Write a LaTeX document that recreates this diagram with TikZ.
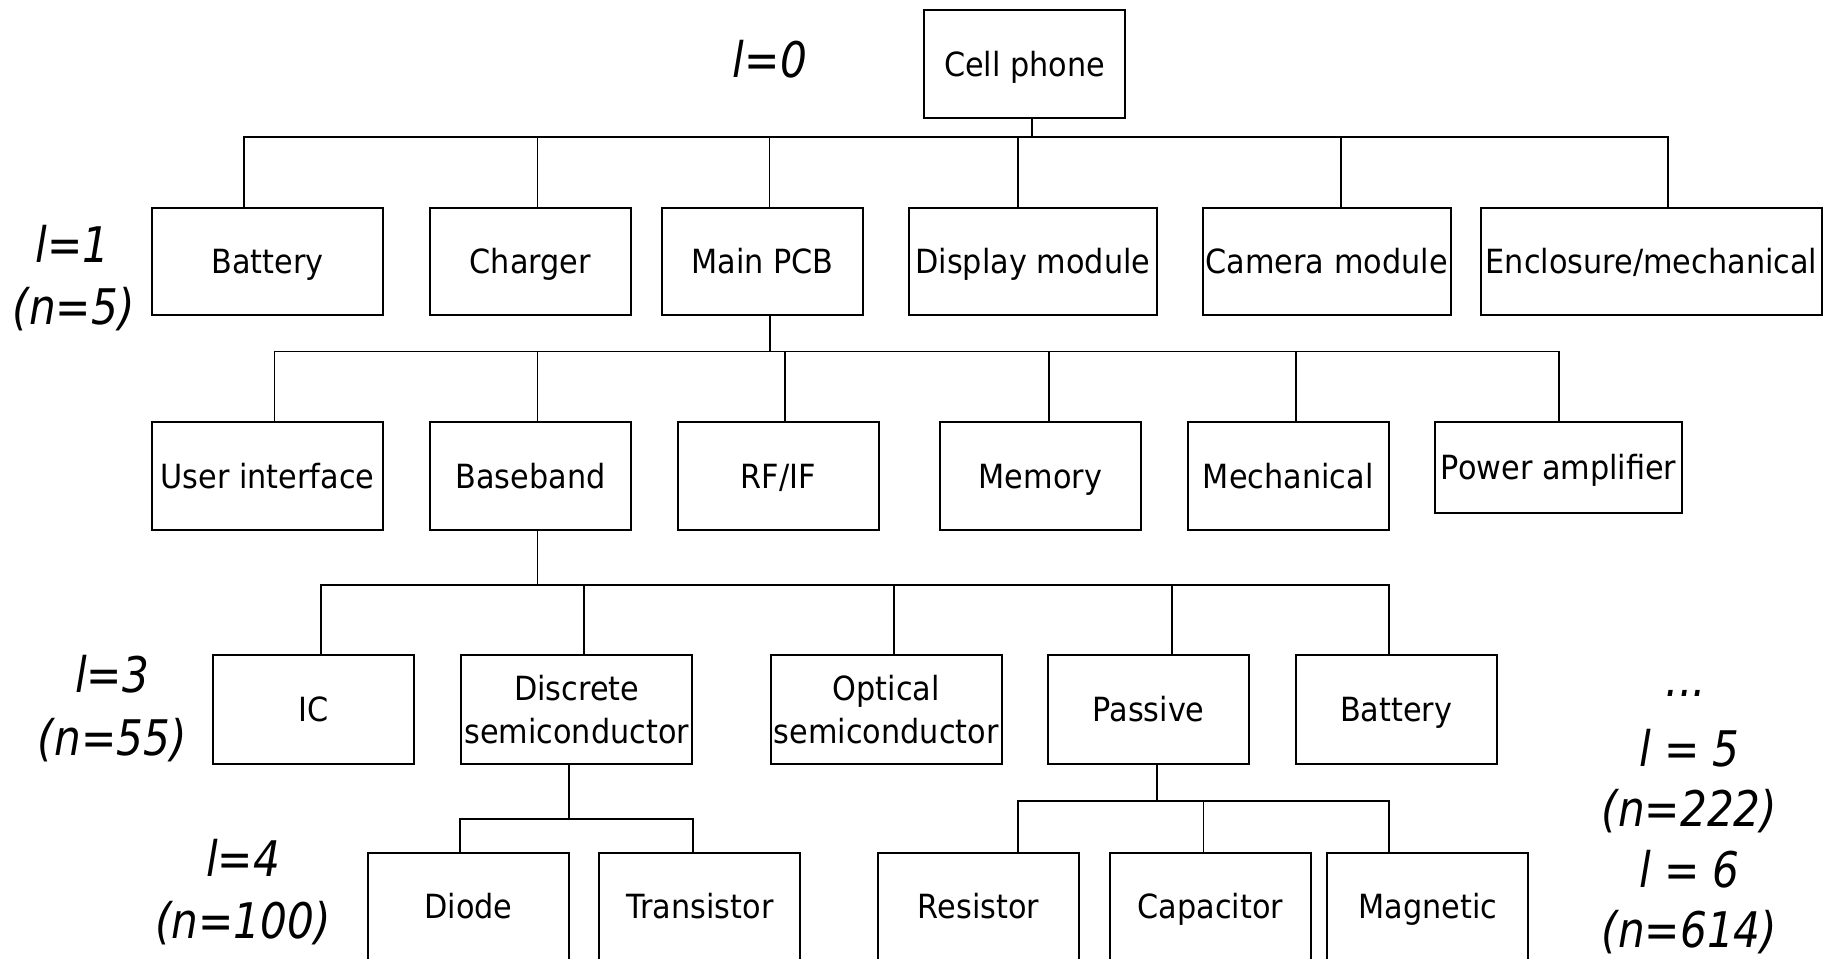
\documentclass[tikz,border=0pt]{standalone}
\usepackage{fontspec}
\setmainfont[FakeStretch=0.91]{DejaVu Sans}

\begin{document}
\begin{tikzpicture}[
		x=1pt, y=-1pt,
		part/.style={draw, line width=1.7pt, inner sep=0pt, minimum width=172pt, minimum height=92pt, align=center, text height=20.8pt, text depth=0pt, font=\fontsize{28.5}{37}\selectfont},
		twoline/.style={text height=, text depth=},
		link/.style={line width=1.5pt},
		level/.style={anchor=base, inner sep=0pt, font=\fontsize{42}{50}\selectfont\itshape\addfontfeature{FakeStretch=0.86}}
		]
		
		% Page frame
		\useasboundingbox (0,0) rectangle (1568,820);
		\fill[white] (0,0) rectangle (1568,820);
		\clip (0,0) rectangle (1568,820);
		
		% Level 0
		\node[part, minimum height=92.5pt] (cell) at (877,55) {Cell phone};
		
		% Level 1
		\node[part, minimum width=198pt] (bat) at (229,224) {Battery};
		\node[part] (chg) at (454,224) {Charger};
		\node[part] (pcb) at (652.5,224) {Main PCB};
		\node[part, minimum width=212pt] (disp) at (884,224) {Display module};
		\node[part, minimum width=212pt] (cam) at (1135.5,224) {Camera module};
		\node[part, minimum width=292pt] (encl) at (1413.5,224) {Enclosure/mechanical};
		
		% Level 2
		\node[part, minimum width=198pt, minimum height=93pt] (ui) at (229,407.5) {User interface};
		\node[part, minimum height=93pt] (bb) at (454,407.5) {Baseband};
		\node[part, minimum height=93pt] (rf) at (666,407.5) {RF/IF};
		\node[part, minimum height=93pt] (mem) at (890.5,407.5) {Memory};
		\node[part, minimum height=93pt] (mech) at (1102.5,407.5) {Mechanical};
		\node[part, minimum width=212pt, minimum height=78pt] (pa) at (1334,400) {Power amplifier};
		
		% Level 3
		\node[part, minimum height=93pt] (ic) at (268.5,607.5) {IC};
		\node[part, twoline, minimum width=198pt, minimum height=93pt] (disc) at (493.5,607.5) {Discrete\\semiconductor};
		\node[part, twoline, minimum width=198pt, minimum height=93pt] (opt) at (758.5,607.5) {Optical\\semiconductor};
		\node[part, minimum height=93pt] (pas) at (983,607.5) {Passive};
		\node[part, minimum height=93pt] (batt) at (1195,607.5) {Battery};
		
		% Level 4 (cut by the page edge)
		\node[part] (diode) at (401,776) {Diode};
		\node[part] (tran) at (599,776) {Transistor};
		\node[part] (res) at (837.5,776) {Resistor};
		\node[part] (cap) at (1036,776) {Capacitor};
		\node[part] (mag) at (1222,776) {Magnetic};
		
		% Tree connectors
		\foreach \n/\dx in {bat/-20, chg/6, pcb/6, disp/-13, cam/12.5, encl/14}
			\draw[link] ([xshift=6pt]cell.south) -- ++(0,15) -| ([xshift=\dx pt]\n.north);
		\foreach \n/\dx in {ui/6, bb/6, rf/6, mem/7, mech/7, pa/0}
			\draw[link] ([xshift=6.5pt]pcb.south) -- ++(0,30) -| ([xshift=\dx pt]\n.north);
		\foreach \n/\dx in {ic/6.5, disc/6.5, opt/6.5, pas/20, batt/-6}
			\draw[link] ([xshift=6pt]bb.south) -- ++(0,46) -| ([xshift=\dx pt]\n.north);
		\foreach \n/\dx in {diode/-7, tran/-6}
			\draw[link] ([xshift=-6.5pt]disc.south) -- ++(0,46) -| ([xshift=\dx pt]\n.north);
		\foreach \n/\dx in {res/33.5, cap/-6, mag/-33}
			\draw[link] ([xshift=7pt]pas.south) -- ++(0,31) -| ([xshift=\dx pt]\n.north);
		
		% Level labels
		\node[level] (l0) at (659,66) {l=0};
		\node[level] (l1) at (62,225) {l=1};
		\node[level] (n1) at (63,278) {(n=5)};
		\node[level] (l3) at (96,593) {l=3};
		\node[level] (n3) at (96,647) {(n=55)};
		\node[level] (l4) at (208,750) {l=4};
		\node[level] (n4) at (208,803) {(n=100)};
		\node[level] (more) at (1443,596) {...};
		\node[level] (l5) at (1446,656) {l = 5};
		\node[level] (n5) at (1446,707) {(n=222)};
		\node[level] (l6) at (1446,760) {l = 6};
		\node[level] (n6) at (1446,811) {(n=614)};
		
	\end{tikzpicture}
\end{document}
